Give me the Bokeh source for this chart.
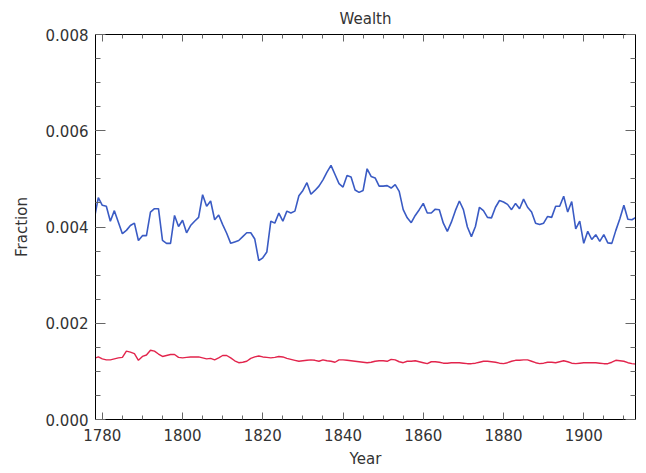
from bokeh.plotting import figure
from bokeh.models import (Range1d, LinearAxis, FixedTicker, PrintfTickFormatter,
                          ColumnDataSource, CustomJSTickFormatter)
from bokeh.embed import file_html
from bokeh.resources import INLINE

start_year = 1778
blue_values = [
    0.00417, 0.00461, 0.00445, 0.00443, 0.00412, 0.00434, 0.00410, 0.00386, 0.00393, 0.00403,
    0.00408, 0.00372, 0.00382, 0.00382, 0.00431, 0.00438, 0.00438, 0.00372, 0.00366, 0.00366,
    0.00424, 0.00401, 0.00414, 0.00388, 0.00403, 0.00412, 0.00420, 0.00467, 0.00443, 0.00454,
    0.00415, 0.00425, 0.00405, 0.00387, 0.00366, 0.00369, 0.00372, 0.00380, 0.00388, 0.00388,
    0.00375, 0.00330, 0.00336, 0.00348, 0.00412, 0.00408, 0.00429, 0.00412, 0.00433, 0.00429,
    0.00433, 0.00465, 0.00476, 0.00492, 0.00468, 0.00476, 0.00485, 0.00498, 0.00514, 0.00528,
    0.00509, 0.00490, 0.00483, 0.00507, 0.00504, 0.00477, 0.00472, 0.00476, 0.00521, 0.00505,
    0.00502, 0.00485, 0.00485, 0.00486, 0.00481, 0.00488, 0.00474, 0.00436, 0.00419, 0.00409,
    0.00424, 0.00436, 0.00449, 0.00429, 0.00429, 0.00437, 0.00436, 0.00408, 0.00391, 0.00410,
    0.00434, 0.00454, 0.00436, 0.00400, 0.00380, 0.00401, 0.00441, 0.00434, 0.00420, 0.00419,
    0.00441, 0.00455, 0.00452, 0.00447, 0.00436, 0.00449, 0.00438, 0.00458, 0.00441, 0.00431,
    0.00408, 0.00405, 0.00408, 0.00422, 0.00420, 0.00443, 0.00443, 0.00464, 0.00431, 0.00453,
    0.00396, 0.00412, 0.00366, 0.00391, 0.00374, 0.00384, 0.00370, 0.00384, 0.00367, 0.00366,
    0.00393, 0.00417, 0.00445, 0.00416, 0.00415, 0.00420,
]
red_values = [
    0.00127, 0.00130, 0.00126, 0.00124, 0.00124, 0.00126, 0.00128, 0.00129, 0.00142, 0.00140,
    0.00137, 0.00123, 0.00131, 0.00134, 0.00144, 0.00142, 0.00136, 0.00131, 0.00133, 0.00135,
    0.00135, 0.00129, 0.00128, 0.00129, 0.00130, 0.00130, 0.00130, 0.00128, 0.00126, 0.00127,
    0.00124, 0.00128, 0.00133, 0.00133, 0.00128, 0.00122, 0.00118, 0.00119, 0.00121, 0.00127,
    0.00130, 0.00132, 0.00130, 0.00129, 0.00128, 0.00129, 0.00131, 0.00130, 0.00127, 0.00125,
    0.00123, 0.00121, 0.00122, 0.00123, 0.00124, 0.00123, 0.00121, 0.00124, 0.00122, 0.00121,
    0.00119, 0.00124, 0.00124, 0.00123, 0.00122, 0.00121, 0.00120, 0.00119, 0.00118, 0.00119,
    0.00121, 0.00122, 0.00122, 0.00121, 0.00125, 0.00124, 0.00120, 0.00118, 0.00121, 0.00121,
    0.00122, 0.00120, 0.00118, 0.00116, 0.00120, 0.00120, 0.00119, 0.00117, 0.00117, 0.00118,
    0.00118, 0.00118, 0.00117, 0.00116, 0.00116, 0.00117, 0.00119, 0.00121, 0.00121, 0.00120,
    0.00119, 0.00117, 0.00116, 0.00118, 0.00121, 0.00123, 0.00123, 0.00124, 0.00124, 0.00121,
    0.00118, 0.00116, 0.00117, 0.00119, 0.00119, 0.00118, 0.00120, 0.00122, 0.00120, 0.00117,
    0.00116, 0.00117, 0.00118, 0.00118, 0.00118, 0.00118, 0.00117, 0.00116, 0.00116, 0.00119,
    0.00123, 0.00122, 0.00121, 0.00118, 0.00116, 0.00115,
]
years = [start_year + i for i in range(len(blue_values))]

x_major = [1780, 1800, 1820, 1840, 1860, 1880, 1900]
x_minor = list(range(1780, 1915, 5))
y_major = [0.000, 0.002, 0.004, 0.006, 0.008]
y_minor = [i * 0.0005 for i in range(17)]

FONT = "DejaVu Sans"
TXT = "#333333"

p = figure(width=638, height=470, output_backend="svg", toolbar_location=None,
           x_range=Range1d(1778.3, 1912.9), y_range=Range1d(0.0, 0.008),
           title="Wealth", min_border_left=95, min_border_right=3,
           min_border_top=34, min_border_bottom=51)
p.background_fill_color = "white"
p.border_fill_color = "white"
p.outline_line_color = None
p.grid.visible = False

p.title.align = "center"
p.title.text_font = FONT
p.title.text_font_size = "15px"
p.title.text_font_style = "normal"
p.title.text_color = TXT
p.title.standoff = 13

src = ColumnDataSource(dict(year=years, blue=blue_values, red=red_values))
p.line("year", "blue", source=src, line_color="#3a5bc4", line_width=1.6)
p.line("year", "red", source=src, line_color="#e2244c", line_width=1.4)

def style(ax, ticks, minor, tin, min_in):
    ax.ticker = FixedTicker(ticks=ticks, minor_ticks=minor)
    ax.major_tick_in = tin
    ax.major_tick_out = 0
    ax.minor_tick_in = min_in
    ax.minor_tick_out = 0
    ax.axis_line_color = "black"
    ax.axis_line_width = 1
    ax.major_tick_line_color = "#666666"
    ax.minor_tick_line_color = "#666666"
    ax.major_label_text_font = FONT
    ax.major_label_text_font_size = "15px"
    ax.major_label_text_color = TXT
    ax.axis_label_text_font = FONT
    ax.axis_label_text_font_size = "15px"
    ax.axis_label_text_font_style = "normal"
    ax.axis_label_text_color = TXT

xa = p.xaxis[0]
style(xa, x_major, x_minor, 7, 4)
xa.axis_label = "Year"
xa.major_label_standoff = 9
xa.axis_label_standoff = 6

ya = p.yaxis[0]
style(ya, y_major, y_minor, 10, 5)
ya.formatter = PrintfTickFormatter(format="%.3f")
ya.axis_label = "Fraction"
ya.major_label_standoff = 7
ya.axis_label_standoff = 12

blank = CustomJSTickFormatter(code="return ''")

top = LinearAxis()
style(top, x_major, x_minor, 7, 4)
top.formatter = blank
top.major_label_standoff = 0
p.add_layout(top, "above")

right = LinearAxis()
style(right, y_major, y_minor, 10, 5)
right.formatter = blank
right.major_label_standoff = 0
p.add_layout(right, "right")

open("out.html", "w").write(file_html(p, INLINE))
